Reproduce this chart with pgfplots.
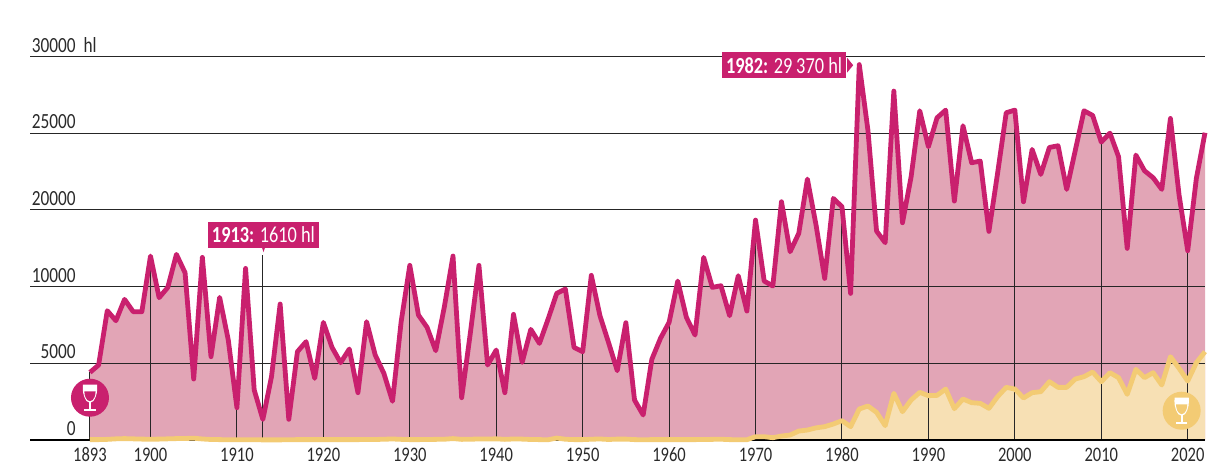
\documentclass[border=0pt]{standalone}
\usepackage{fontspec}
\setmainfont[FakeStretch=0.8]{Carlito}
\usepackage{pgfplots}
\usepackage{pgfplotstable}
\pgfplotsset{compat=1.18}
\definecolor{rouge}{HTML}{C9206E}
\definecolor{rougef}{HTML}{E2A5B6}
\definecolor{blanc}{HTML}{F3CB74}
\definecolor{blancf}{HTML}{F7E0B4}
\definecolor{txt}{HTML}{2A2A2A}
\pgfplotstableread{
year red white
1893 5292 30
1894 5866 30
1895 10115 50
1896 9333 90
1897 11002 110
1898 10037 90
1899 10037 70
1900 14391 60
1901 11132 70
1902 11940 90
1903 14521 110
1904 13087 120
1905 4771 140
1906 14286 80
1907 6518 40
1908 11158 30
1909 7821 20
1910 2529 20
1911 13426 20
1912 3911 20
1913 1610 10
1914 4953 10
1915 10637 10
1916 1616 20
1917 6909 30
1918 7691 30
1919 4823 30
1920 9203 30
1921 7247 30
1922 6048 30
1923 7117 30
1924 3702 30
1925 9255 40
1926 6648 40
1927 5214 60
1928 3024 80
1929 9255 50
1930 13661 30
1931 9776 30
1932 8812 40
1933 6987 50
1934 10428 60
1935 14391 110
1936 3311 50
1937 8342 60
1938 13661 80
1939 5866 80
1940 7039 90
1941 3702 50
1942 9828 80
1943 6074 70
1944 8655 40
1945 7560 30
1946 9463 20
1947 11471 150
1948 11810 60
1949 7247 30
1950 6909 30
1951 12879 60
1952 9724 80
1953 7612 40
1954 5423 70
1955 9177 70
1956 3128 30
1957 1955 20
1958 6309 30
1959 7951 30
1960 9203 30
1961 12435 30
1962 9594 30
1963 8212 30
1964 14286 40
1965 11940 50
1966 12070 60
1967 9724 30
1968 12853 20
1969 10089 20
1970 17206 260
1971 12435 260
1972 12044 180
1973 18640 310
1974 14730 390
1975 16163 700
1976 20413 780
1977 16815 950
1978 12644 1043
1979 18901 1251
1980 18249 1512
1981 11471 1043
1982 29370 2425
1983 24245 2659
1984 16346 2164
1985 15433 1121
1986 27295 3650
1987 16998 2216
1988 20595 3128
1989 25757 3728
1990 22942 3467
1991 25210 3493
1992 25809 3989
1993 18692 2451
1994 24584 3207
1995 21690 2920
1996 21821 2868
1997 16320 2477
1998 20856 3389
1999 25601 4119
2000 25809 3989
2001 18640 3285
2002 22733 3702
2003 20778 3780
2004 22889 4562
2005 23020 4119
2006 19605 4119
2007 22681 4771
2008 25757 4953
2009 25392 5318
2010 23307 4562
2011 24010 5266
2012 22160 4875
2013 14990 3572
2014 22290 5527
2015 21065 4875
2016 20517 5266
2017 19605 4302
2018 25158 6518
2019 19161 5605
2020 14808 4614
2021 20465 6048
2022 24037 6909
}\wine
\newcommand{\glass}[2]{%
  \begin{scope}[shift={#1}]
    \fill[white] (-5.3pt,9.75pt) -- (5.3pt,9.75pt) .. controls (5.6pt,6pt) and (5.6pt,2pt) .. (2.5pt,-2.6pt) -- (0.8pt,-3.4pt) -- (-0.8pt,-3.4pt) -- (-2.5pt,-2.6pt) .. controls (-5.6pt,2pt) and (-5.6pt,6pt) .. (-5.3pt,9.75pt) -- cycle;
    \fill[#2] (-4.2pt,4.7pt) -- (4.2pt,4.7pt) .. controls (4.3pt,2pt) and (3pt,-2.4pt) .. (0pt,-2.6pt) .. controls (-3pt,-2.4pt) and (-4.3pt,2pt) .. (-4.2pt,4.7pt) -- cycle;
    \fill[white] (-0.65pt,-3.4pt) rectangle (0.65pt,-9pt);
    \fill[white] (-4.2pt,-8.5pt) rectangle (4.2pt,-10pt);
  \end{scope}}
\begin{document}
\begin{tikzpicture}
\path[use as bounding box] (0,0) rectangle (924pt,348.75pt);
\begin{axis}[
  at={(22.5pt,18.75pt)}, anchor=south west,
  scale only axis, width=881.25pt, height=287.6pt,
  xmin=1886.06, xmax=2022, ymin=0, ymax=30000,
  clip=false,
  axis line style={draw=none},
  major tick length=0pt,
  scaled y ticks=false,
  xtick={1893,1900,1910,1920,1930,1940,1950,1960,1970,1980,1990,2000,2010,2020},
  xticklabels={1893,1900,1910,1920,1930,1940,1950,1960,1970,1980,1990,2000,2010,2020},
  ytick={0,6000,12000,18000,24000,30000},
  yticklabels={0,5000,10000,20000,25000,{30000\rlap{\ \ hl}}},
  tick label style={text=txt, inner sep=0pt},
  xticklabel style={font=\fontsize{15.5}{18}\selectfont, anchor=north, yshift=-5.5pt},
  yticklabel style={font=\fontsize{16.2}{18}\selectfont, anchor=south east, xshift=34.5pt, yshift=3pt},
  every axis plot/.append style={forget plot},
]
% areas
\addplot[fill=rougef, draw=none] table[x=year,y=red] {\wine} \closedcycle;
\addplot[fill=blancf, draw=none] table[x=year,y=white] {\wine} \closedcycle;
% grid lines over the areas
\addplot[black!85, line width=0.8pt] coordinates {(1886.06,6000)(2022,6000)};
\addplot[black!85, line width=0.8pt] coordinates {(1886.06,12000)(2022,12000)};
\addplot[black!85, line width=0.8pt] coordinates {(1886.06,18000)(2022,18000)};
\addplot[black!85, line width=0.8pt] coordinates {(1886.06,24000)(2022,24000)};
\addplot[black!85, line width=0.8pt] coordinates {(1886.06,30000)(2022,30000)};
% decade stems
\addplot[ycomb, black!85, line width=0.75pt, mark=none] coordinates {
 (1893,5292)(1900,14391)(1910,2529)(1913,14467)(1920,9203)(1930,13661)(1940,7039)(1950,6909)(1960,9203)(1970,17206)(1980,18249)(1990,22942)(2000,25809)(2010,23307)(2020,14808)};
% base line
\addplot[black, line width=1.9pt] coordinates {(1886.06,0)(2022,0)};
% series
\addplot[rouge, line width=3.6pt, line join=round, mark=none] table[x=year,y=red] {\wine};
\addplot[blanc, line width=3.6pt, line join=round, mark=none] table[x=year,y=white] {\wine};
% callouts
\fill[rouge] (axis cs:1912.5,15900) -- (axis cs:1913.7,15900) -- (axis cs:1913.07,14700) -- cycle;
\node[fill=rouge, text=white, minimum width=83.25pt, minimum height=19.5pt, inner sep=0pt, font=\fontsize{17.2}{18}\selectfont] at (axis cs:1913.07,16031) {\textbf{1913:} 1610 hl};
\fill[rouge] (axis cs:1980.6,29900) -- (axis cs:1980.6,28750) -- (axis cs:1981.3,29320) -- cycle;
\node[fill=rouge, text=white, minimum width=93pt, minimum height=19.5pt, inner sep=0pt, font=\fontsize{17.2}{18}\selectfont] at (axis cs:1973.3,29325) {\textbf{1982:} 29\,370 hl};
% icons
\fill[rouge] (axis cs:1893,3308) circle[radius=14.25pt];
\glass{(axis cs:1893,3308)}{rouge}
\fill[blanc] (axis cs:2019.3,2291) circle[radius=14.25pt];
\glass{(axis cs:2019.3,2291)}{blanc}
\end{axis}
\end{tikzpicture}
\end{document}
